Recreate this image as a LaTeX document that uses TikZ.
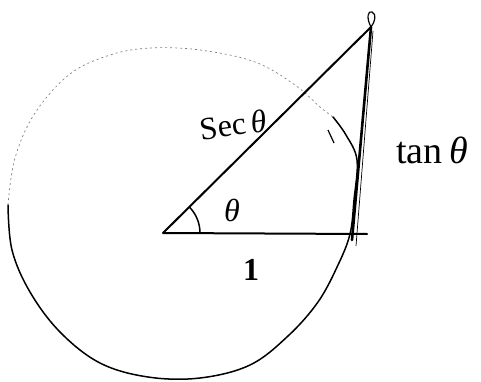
\documentclass[tikz,border=0pt]{standalone}
\usepackage{fontspec}
\setmainfont{Liberation Serif}
\usetikzlibrary{calc}
\tikzset{
  pen/.style={line width=2pt, line cap=round, line join=round},
  faint/.style={line width=0.7pt, gray, dash pattern=on 2pt off 3pt},
  hand/.style={font=\fontsize{32}{36}\selectfont}
}
\begin{document}
\begin{tikzpicture}[x=1pt, y=-1pt]
  \useasboundingbox (0,0) rectangle (481,382);
  % points of the triangle
  \coordinate (O) at (163,233);
  \coordinate (A) at (367,234);
  \coordinate (T) at (352,240);
  \coordinate (P) at (371,27);

  % the (hand drawn) unit circle
  \draw[pen, line width=1.5pt] plot[smooth, tension=0.6] coordinates {(333,117) (346,135) (357,160) (354,200) (350,234) (338,265) (318,302) (288,336) (250,365) (200,378) (148,377) (100,363) (60,332) (30,292) (12,250) (8,205)};
  \draw[faint] plot[smooth, tension=0.6] coordinates {(8,205) (15,158) (35,113) (70,74) (110,55) (150,48) (200,50) (255,62) (295,85) (320,107) (333,117)};
  \draw[line width=1.2pt] (328,130) -- (334,143);

  % triangle
  \draw[pen] (O) -- (A);
  \draw[pen] (O) -- (P);
  \draw[pen, line width=2.6pt] (T) -- (P);
  \draw[line width=0.7pt] ($(T)+(4,6)$) -- ($(P)+(2,4)$);
  \draw[line width=1.2pt] (P) .. controls (366,18) and (368,10) .. (372,12) .. controls (377,14) and (375,22) .. (P);

  % angle
  \draw[pen, line width=1.5pt] (200,233) arc[start angle=0, end angle=-44, radius=37];

  % labels
  \node[hand, rotate=8, anchor=east, inner sep=1pt] (sec) at (268,120) {Sec\,\textit{θ}};
  \node[hand, font=\fontsize{38}{42}\selectfont] (tan) at (432,150) {tan\,\textit{θ}};
  \node[hand] (th) at (232,210) {\textit{θ}};
  \node[hand] (one) at (251,270) {\textbf{1}};
\end{tikzpicture}
\end{document}
